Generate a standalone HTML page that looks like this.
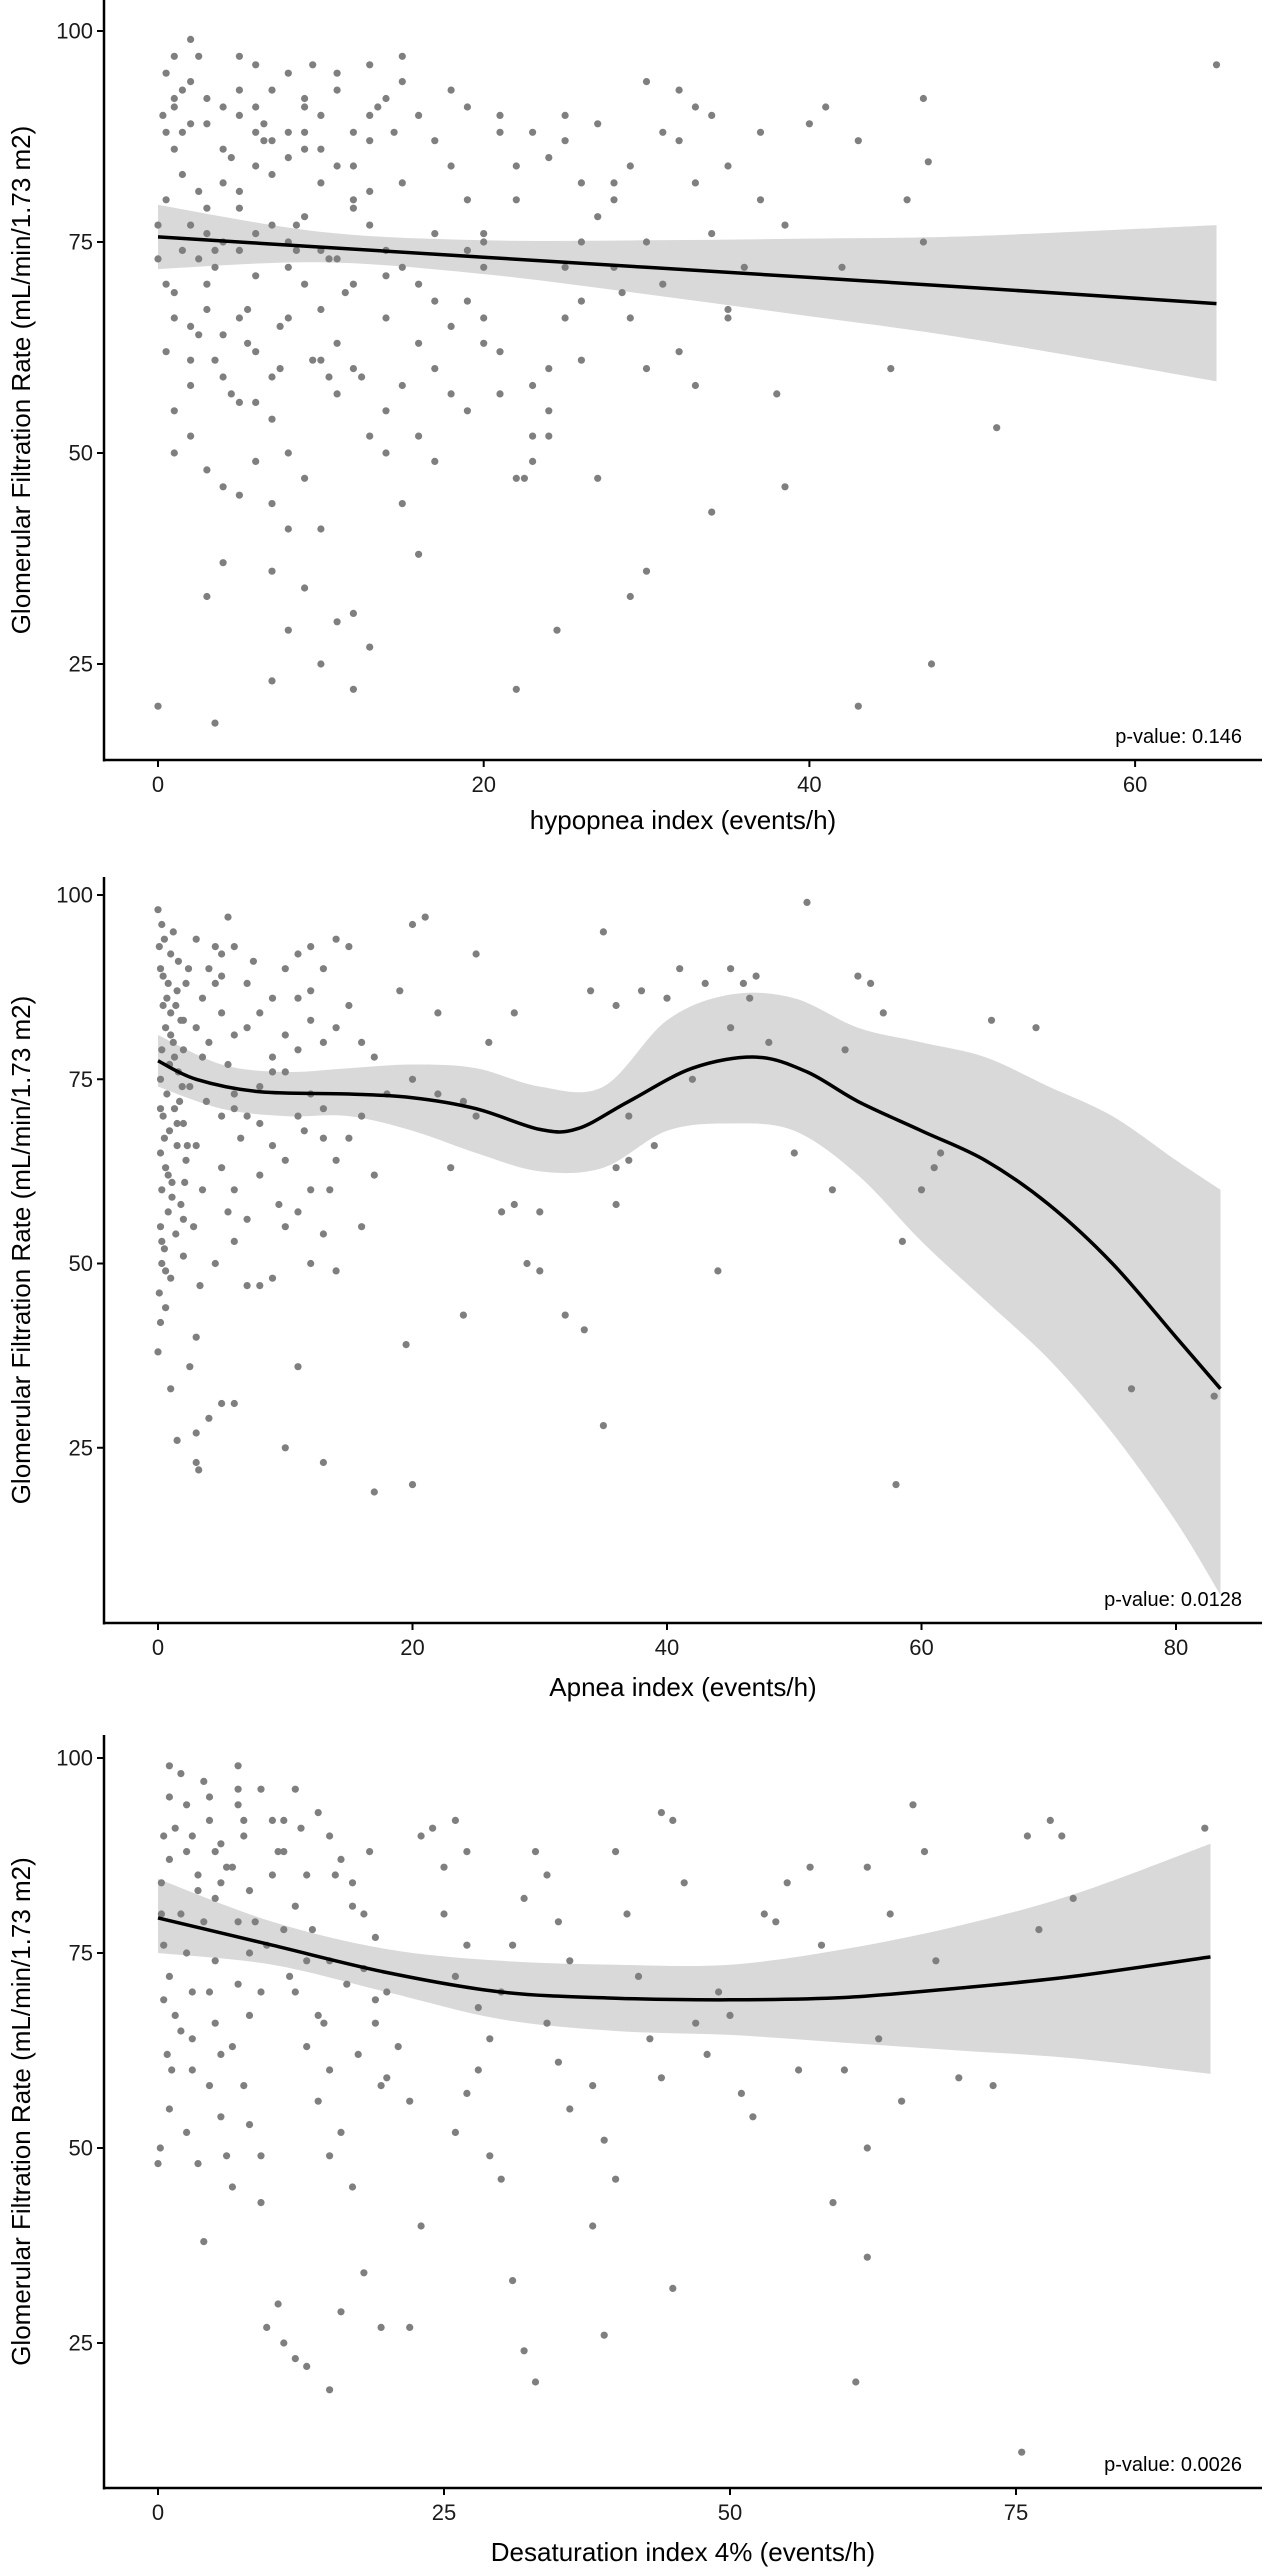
<!DOCTYPE html>
<html><head><meta charset="utf-8">
<style>
html,body{margin:0;padding:0;background:#fff;}
svg{display:block;font-family:"Liberation Sans",Arial,sans-serif;}
</style></head>
<body>
<svg id="chart" width="1276" height="2575" viewBox="0 0 1276 2575" xmlns="http://www.w3.org/2000/svg"></svg>
<script>
// ---------- Panel 1: hypopnea index ----------
const p1X = [65,51.5,47.5,47,47.3,45,43,41,38.5,38.5,38,37,35,34,33,34,32,30,30,29,28.5,28,27,26,25,24.5,24,22,22.5,23,21,20,
0,3.5,0,0,0.5,0.3,1,0.5,1,2,2.5,1.5,1,0.5,1,1,2,2,3,2.5,3,3.5,2,4,4,3,4,5,5,6,6,5,5,6,5,6,7,6,7,8,9,7,8,10,9,3,4,12,11,13,10,12,7,8,15,14,13,15,12,11,10,9,8,8,9,10,11,12,13,14,15,15,13,11,10,9,8,7,6,5,7,8,9,10,12,13,14,15,16,17,16,17,18,19,16,17,18,19,20,20,19,18,17,16,18,19,21,22,20,21,23,24,22,23,24,25,26,25,26,27,24,23,25,27,29,28,30,31,29,30,32,33,35,36,34,33,35,37,32,31,3,4,2,1,1.5,3,4,2,5,6,7,16,11,12,14,15,17,19,20,21,22,26,28,40,43,46,47,42,
0.5,1,1.5,2,2.5,3,3.5,4,4.5,5,5.5,6,6.5,7,7.5,8,8.5,9,9.5,10,10.5,11,11.5,12,12.5,13,13.5,14,14.5,
1,2,3,4,5,6,7,8,9,10,11,12,13,14,
0.5,1.5,2.5,3.5,4.5,5.5,6.5,7.5,8.5,9.5,10.5];
const p1Y = [96,53,25,92,84.5,60,20,91,46,77,57,88,67,43,91,90,87,94,36,33,69,82,47,82,87,29,60,22,47,52,90,75,
20,18,77,73,80,90,92,95,97,99,97,88,86,62,55,50,61,65,67,73,76,74,77,82,86,89,91,93,90,88,84,79,74,71,66,62,59,56,54,50,47,44,41,41,34,33,37,31,30,27,25,22,23,29,44,50,52,58,60,63,67,70,72,75,78,82,84,88,90,92,94,97,96,93,90,92,95,93,96,97,87,85,88,86,80,77,74,72,70,68,63,60,57,55,52,49,65,68,72,76,80,84,87,90,93,91,88,84,66,62,58,52,47,49,55,66,61,72,75,78,85,88,90,89,84,80,75,70,66,60,62,58,66,72,76,82,84,80,93,88,70,64,58,69,83,48,46,52,45,49,36,38,57,70,66,82,76,74,63,57,80,68,72,89,87,80,75,72,
88,91,74,89,64,92,61,75,85,81,63,76,89,83,65,88,77,91,61,74,73,95,69,84,59,81,91,71,88,
66,94,79,59,56,91,77,66,86,61,73,79,87,55,
70,93,81,72,57,67,87,60,74,96,59];
const p1FitX = [0,10,20,30,40,50,65];
const p1Fit  = [75.6,74.4,73.2,72.0,70.8,69.6,67.7];
const p1Lo   = [71.8,72.6,71.2,68.8,66.2,63.5,58.5];
const p1Hi   = [79.4,76.2,75.2,75.2,75.4,75.7,77.0];
const p1XTicks = [0,20,40,60];
const p1YTicks = [25,50,75,100];

// ---------- Panel 2: apnea index ----------
const p2X = [0,0.3,0.5,1,0.2,0.8,1.5,0.4,1,2,0.6,1.2,0.3,2,0.9,1.6,0.2,2.5,0.7,1.3,0.4,2,0.9,1.5,0.2,2.2,0.6,1.1,0.3,1.8,0.8,0.2,1.4,0.5,2,0.3,1,0.1,0.6,0.2,0,1,1.5,3,3.2,3,4,5,6,2.5,3,3.3,2.8,3.5,3,3.8,3.5,3,3.5,4,4.5,3,5,5.5,6,4.5,5,6,5.5,6,5,6.5,5,6,5.5,6,4.5,7,8,9,7,8,9,7,8,9,10,8,9,7,10,11,12,13,14,15,11,12,13,10,12,11,13,14,12,11,10,13,14,12,11,10,13,17,20,19.5,24,16,17,16,18,17,16,15,19,20,21,22,20,22,24,23,25,26,25,28,27,28,30,29,30,32,33.5,35,36,36,37,35,36,34,38,40,41,43,45,46,46.5,47,44,42,45,50,51,53,54,55,56,57,58,58.5,60,61,61.5,65.5,69,76.5,83,37,39,48,
0.1,0.4,0.7,1,1.3,1.6,1.9,2.2,0.2,0.5,0.8,1.1,1.4,1.7,2,2.3,0.3,0.6,0.9,1.2,1.5,1.8,2.1,2.4,
4,5,6,7,8,9,10,11,12,13,14,15,7.5,9.5,11.5,13.5];
const p2Y = [98,96,94,92,90,88,87,85,84,83,82,80,79,79,77,76,75,74,73,71,70,69,68,66,65,64,63,61,60,58,57,55,54,52,51,50,48,46,44,42,38,33,26,23,22,27,29,31,31,36,40,47,55,60,66,72,78,82,86,90,93,94,92,97,93,88,84,81,77,73,70,67,63,60,57,53,50,47,47,48,56,62,66,70,74,78,81,84,86,88,90,92,93,90,94,93,86,83,80,76,73,70,67,64,60,57,55,54,49,50,36,25,23,19,20,39,43,55,62,70,73,78,80,85,87,96,97,84,75,73,72,63,70,80,92,84,57,58,57,50,49,43,41,28,58,63,70,95,85,87,87,86,90,88,90,88,86,89,49,75,82,65,99,60,79,89,88,84,20,53,60,63,65,83,82,33,32,64,66,80,
93,89,86,81,78,91,74,88,71,67,62,59,85,72,56,66,53,49,77,95,69,83,61,90,
80,89,71,82,69,76,64,79,87,71,82,67,91,58,68,60];
const p2FitX = [0,3,8,15,20,25,30,33,37,42,47,51,55,60,65,70,75,80,83.5];
const p2Fit  = [77.5,75,73.3,73,72.5,71,68.2,68.3,72,76.5,78,76,72,68,64,58,50,40,33];
const p2LoX  = [0,5,10,15,20,25,30,35,40,45,50,55,60,65,70,75,80,83.5];
const p2Lo   = [74,71,70,70,68,65,62.5,63,68,69,68,62,53,45,37,27,15,5];
const p2Hi   = [81,77,76,76.5,77,76.5,74,74,83,86.5,86,82,80,78,74,70,64,60];
const p2XTicks = [0,20,40,60,80];
const p2YTicks = [25,50,75,100];

// ---------- Panel 3: desaturation index ----------
const p3X = [0,0.5,0.3,1,1,0.5,1,0.3,0.8,1.2,1,0.2,1.5,2,2.5,3,3.5,2,2.5,3,2,3,2.5,3.5,4,4,4.5,5,5.5,4,5,4.5,5,5.5,4.5,5.5,6,6.5,7,7,7.5,6,8,7,8,7,8,6.5,7.5,8,9,9,9.5,10.5,11,12,13,15,16,18,19.5,22,23,9,10,11,10,12,11,13,12,14,13,15,14,16,15,17,12,14,15,16,17,18,19,18,20,19,21,20,22,23,24,25,26,27,25,27,26,28,29,28,27,26,29,30,31,32,33,30,31,32,33,34,35,36,34,35,36,38,39,40,38,39,40,41,42,43,44,45,46,44,45,47,48,49,50,51,52,53,54,55,56,57,58,59,60,61,62,62,62,63,64,65,66,67,75.5,76,77,78,79,80,91.5,73,70,68,
0.5,1.5,2.5,3.5,4.5,5.5,6.5,7.5,8.5,9.5,10.5,11.5,12.5,13.5,14.5,15.5,16.5,17.5,18.5,19.5,1,3,5,7,9,11,13,15,17,19];
const p3Y = [48,76,80,99,95,90,87,84,62,60,55,50,67,98,94,90,85,80,75,70,65,60,52,48,38,97,92,88,84,79,74,70,66,62,58,54,49,45,99,94,90,86,83,79,75,71,67,63,58,53,49,43,27,30,25,23,22,19,29,34,27,27,40,96,92,88,85,81,78,74,70,67,63,60,56,52,49,45,96,93,90,87,84,80,77,73,70,66,63,59,56,90,91,86,92,88,80,76,72,68,64,60,57,52,49,46,33,24,20,70,76,82,88,85,79,74,66,61,55,58,51,46,40,26,88,80,72,64,93,92,84,59,32,66,62,70,67,57,54,80,79,84,60,86,76,43,60,20,36,50,86,64,80,56,94,88,11,90,78,92,90,82,91,58,59,74,
69,91,88,83,95,89,86,92,79,76,88,72,91,78,66,85,71,62,88,58,72,64,82,96,70,92,85,74,81,69];
const p3FitX = [0,10,20,30,40,50,60,70,80,92];
const p3Fit  = [79.5,76,72.5,70,69.2,69,69.3,70.5,72,74.5];
const p3Lo   = [75,73.5,70,66.5,65,64.5,63.5,62.5,61.5,59.5];
const p3Hi   = [84.5,79,75.5,74,73.5,73.5,75.5,78.5,82.5,89];
const p3XTicks = [0,25,50,75];
const p3YTicks = [25,50,75,100];

const NS = "http://www.w3.org/2000/svg";
const svg = document.getElementById('chart');

function mk(tag, attrs, parent){
  const e = document.createElementNS(NS, tag);
  for (const k in attrs) e.setAttribute(k, attrs[k]);
  (parent||svg).appendChild(e);
  return e;
}
function smoothPath(pts){
  let d = "M" + pts[0][0].toFixed(1) + "," + pts[0][1].toFixed(1);
  for (let i=0;i<pts.length-1;i++){
    const p0=pts[Math.max(0,i-1)], p1=pts[i], p2=pts[i+1], p3=pts[Math.min(pts.length-1,i+2)];
    const c1x=p1[0]+(p2[0]-p0[0])/6, c1y=p1[1]+(p2[1]-p0[1])/6;
    const c2x=p2[0]-(p3[0]-p1[0])/6, c2y=p2[1]-(p3[1]-p1[1])/6;
    d += " C"+c1x.toFixed(1)+","+c1y.toFixed(1)+" "+c2x.toFixed(1)+","+c2y.toFixed(1)+" "+p2[0].toFixed(1)+","+p2[1].toFixed(1);
  }
  return d;
}

function panel(cfg){
  const g = mk('g', {});
  
  
  const xs = v => cfg.x0 + v*cfg.kx;
  const ys = v => cfg.y100 + (100-v)*cfg.ky;

  const loX = cfg.loX || cfg.fitX;
  const up = cfg.fitXr.map((x,i)=>[xs(x), ys(cfg.hi[i])]);
  const dn = loX.map((x,i)=>[xs(x), ys(cfg.lo[i])]).reverse();
  const rp = smoothPath(up) + " L" + smoothPath(dn).slice(1) + " Z";
  const rib = mk('path', {d: rp, fill:'#d9d9d9', stroke:'none'}, g);
  
  

  const pg = mk('g', {fill:'#7f7f7f'}, g);
  
  
  for (let i=0;i<cfg.px.length;i++){
    const c = mk('circle', {cx: xs(cfg.px[i]).toFixed(1), cy: ys(cfg.py[i]).toFixed(1), r: 3.6}, pg);
    
    
  }

  const fl = mk('path', {d: smoothPath(cfg.fitX.map((x,i)=>[xs(x), ys(cfg.fit[i])])), fill:'none', stroke:'#000', 'stroke-width':3.5}, g);
  
  

  const ya = mk('line', {x1:104, y1:cfg.top, x2:104, y2:cfg.bottom+1.5, stroke:'#000', 'stroke-width':2.5}, g);
  
  
  const xa = mk('line', {x1:103, y1:cfg.bottom, x2:1262, y2:cfg.bottom, stroke:'#000', 'stroke-width':2.5}, g);
  
  

  cfg.yt.forEach(v=>{
    const y = ys(v);
    const t = mk('line', {x1:97, y1:y, x2:104, y2:y, stroke:'#000', 'stroke-width':2}, g);
    
    
    const l = mk('text', {x:93, y:y+7.5, 'text-anchor':'end', 'font-size':22, fill:'#1a1a1a'}, g);
    
    
    l.textContent = v;
  });
  cfg.xt.forEach(v=>{
    const x = xs(v);
    const t = mk('line', {x1:x, y1:cfg.bottom, x2:x, y2:cfg.bottom+7, stroke:'#000', 'stroke-width':2}, g);
    
    
    const l = mk('text', {x:x, y:cfg.bottom+32, 'text-anchor':'middle', 'font-size':22, fill:'#1a1a1a'}, g);
    
    
    l.textContent = v;
  });

  const xt = mk('text', {x:683, y:cfg.xTitleY, 'text-anchor':'middle', 'font-size':26, fill:'#000'}, g);
  
  
  xt.textContent = cfg.xTitle;

  const cy = (cfg.top+cfg.bottom)/2;
  const yt = mk('text', {x:0, y:0, 'text-anchor':'middle', 'font-size':26, fill:'#000', transform:'translate(30,'+cy+') rotate(-90)'}, g);
  
  
  yt.textContent = 'Glomerular Filtration Rate (mL/min/1.73 m2)';

  const pv = mk('text', {x:1242, y:cfg.bottom-17, 'text-anchor':'end', 'font-size':20, fill:'#000'}, g);
  
  
  pv.textContent = cfg.pval;
}

panel({name:'hypopnea-panel', x0:158, kx:16.285, y100:31, ky:8.44, top:0, bottom:760,
  px:p1X, py:p1Y, fitX:p1FitX, fitXr:p1FitX, fit:p1Fit, lo:p1Lo, hi:p1Hi, xt:p1XTicks, yt:p1YTicks,
  xTitle:'hypopnea index (events/h)', xTitleY:829, pval:'p-value: 0.146'});
panel({name:'apnea-panel', x0:158, kx:12.725, y100:895, ky:7.37, top:877, bottom:1623,
  px:p2X, py:p2Y, fitX:p2FitX, fitXr:p2LoX, loX:p2LoX, fit:p2Fit, lo:p2Lo, hi:p2Hi, xt:p2XTicks, yt:p2YTicks,
  xTitle:'Apnea index (events/h)', xTitleY:1696, pval:'p-value: 0.0128'});
panel({name:'desaturation-panel', x0:158, kx:11.44, y100:1758, ky:7.8, top:1735, bottom:2488,
  px:p3X, py:p3Y, fitX:p3FitX, fitXr:p3FitX, fit:p3Fit, lo:p3Lo, hi:p3Hi, xt:p3XTicks, yt:p3YTicks,
  xTitle:'Desaturation index 4% (events/h)', xTitleY:2561, pval:'p-value: 0.0026'});
</script>
</body></html>
